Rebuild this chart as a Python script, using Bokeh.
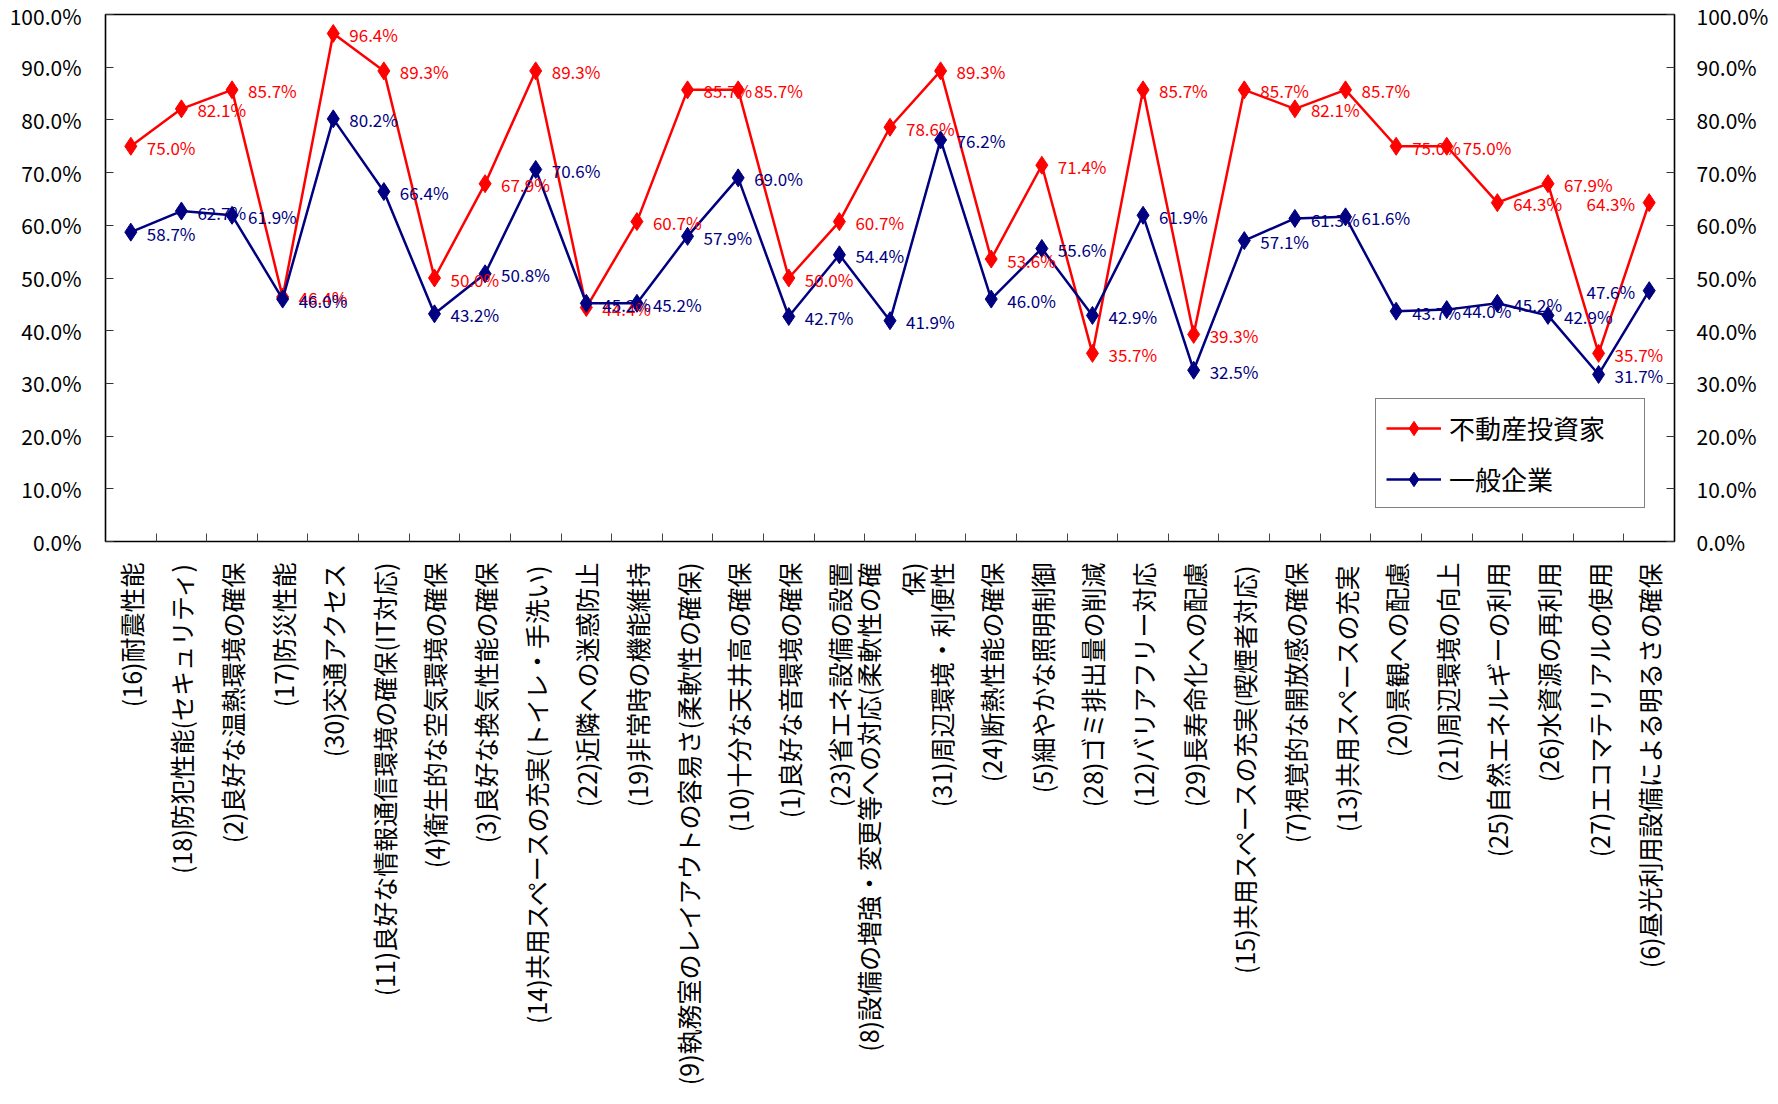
import math
from bokeh.plotting import figure
from bokeh.models import (ColumnDataSource, Range1d, LinearAxis, Label,
                          FixedTicker, SingleIntervalTicker,
                          PrintfTickFormatter, Legend, LegendItem)
from bokeh.embed import file_html
from bokeh.resources import INLINE

FONT = "Noto Sans CJK JP"

# evaluation items (x axis categories)
categories = [
    "(16)耐震性能",
    "(18)防犯性能(セキュリティ)",
    "(2)良好な温熱環境の確保",
    "(17)防災性能",
    "(30)交通アクセス",
    "(11)良好な情報通信環境の確保(IT対応)",
    "(4)衛生的な空気環境の確保",
    "(3)良好な換気性能の確保",
    "(14)共用スペースの充実(トイレ・手洗い)",
    "(22)近隣への迷惑防止",
    "(19)非常時の機能維持",
    "(9)執務室のレイアウトの容易さ(柔軟性の確保)",
    "(10)十分な天井高の確保",
    "(1)良好な音環境の確保",
    "(23)省エネ設備の設置",
    "(8)設備の増強・変更等への対応(柔軟性の確\n保)",
    "(31)周辺環境・利便性",
    "(24)断熱性能の確保",
    "(5)細やかな照明制御",
    "(28)ゴミ排出量の削減",
    "(12)バリアフリー対応",
    "(29)長寿命化への配慮",
    "(15)共用スペースの充実(喫煙者対応)",
    "(7)視覚的な開放感の確保",
    "(13)共用スペースの充実",
    "(20)景観への配慮",
    "(21)周辺環境の向上",
    "(25)自然エネルギーの利用",
    "(26)水資源の再利用",
    "(27)エコマテリアルの使用",
    "(6)昼光利用設備による明るさの確保",
]

series_names = ["不動産投資家", "一般企業"]

# share of respondents (%)
investors = [75.0, 82.1, 85.7, 46.4, 96.4, 89.3, 50.0, 67.9, 89.3, 44.4, 60.7,
             85.7, 85.7, 50.0, 60.7, 78.6, 89.3, 53.6, 71.4, 35.7, 85.7, 39.3,
             85.7, 82.1, 85.7, 75.0, 75.0, 64.3, 67.9, 35.7, 64.3]
companies = [58.7, 62.7, 61.9, 46.0, 80.2, 66.4, 43.2, 50.8, 70.6, 45.2, 45.2,
             57.9, 69.0, 42.7, 54.4, 41.9, 76.2, 46.0, 55.6, 42.9, 61.9, 32.5,
             57.1, 61.3, 61.6, 43.7, 44.0, 45.2, 42.9, 31.7, 47.6]

colors = ["#FF0000", "#000080"]

n = len(categories)
positions = list(range(1, n + 1))            # category slots 1..n
boundaries = [i + 0.5 for i in range(1, n)]  # edges between slots

p = figure(
    width=1778, height=1104,
    x_range=Range1d(0.5, n + 0.5),
    y_range=Range1d(0, 100),
    x_axis_location=None,
    output_backend="svg", toolbar_location=None,
    min_border_left=105, min_border_right=104,
    min_border_top=14, min_border_bottom=563,
)
p.background_fill_color = "white"
p.border_fill_color = "white"
p.outline_line_color = "black"
p.outline_line_width = 1.6
p.xgrid.visible = False
p.ygrid.visible = False

# y axes on both sides
def style_y(ax):
    ax.ticker = SingleIntervalTicker(interval=10)
    ax.formatter = PrintfTickFormatter(format="%.1f%%")
    ax.major_tick_in = 8
    ax.major_tick_out = 0
    ax.minor_tick_line_color = None
    ax.major_tick_line_color = "#333333"
    ax.axis_line_color = None
    ax.major_label_text_font = FONT
    ax.major_label_text_font_size = "21px"
    ax.major_label_text_color = "black"

style_y(p.yaxis[0])
p.yaxis[0].major_label_standoff = 20
right_axis = LinearAxis()
style_y(right_axis)
right_axis.major_label_standoff = 18
p.add_layout(right_axis, "right")

# category labels, with short ticks on the slot edges
cat_axis = LinearAxis(ticker=FixedTicker(ticks=positions, minor_ticks=boundaries))
cat_axis.major_label_overrides = {pos: name for pos, name in zip(positions, categories)}
cat_axis.major_tick_line_color = None
cat_axis.major_tick_in = 0
cat_axis.major_tick_out = 0
cat_axis.minor_tick_in = 8
cat_axis.minor_tick_out = 0
cat_axis.minor_tick_line_color = "#444444"
cat_axis.axis_line_color = None
cat_axis.major_label_orientation = math.pi / 2
cat_axis.major_label_standoff = 21
cat_axis.major_label_text_font = FONT
cat_axis.major_label_text_font_size = "25px"
cat_axis.major_label_text_color = "black"
p.add_layout(cat_axis, "below")

legend_items = []
series = list(zip(series_names, [investors, companies], colors))
for name, vals, col in series:
    src = ColumnDataSource(dict(x=positions, y=vals))
    ln = p.line("x", "y", source=src, line_color=col, line_width=2.5)
    mk = p.scatter("x", "y", source=src, marker="diamond", size=18,
                   fill_color=col, line_color=col)
    legend_items.append(LegendItem(label=name, renderers=[ln, mk]))

# value labels beside each point; the last slot puts them on the left
# so they stay inside the plot frame
for name, vals, col in series:
    for pos, v in zip(positions, vals):
        last = pos == n
        p.add_layout(Label(x=pos, y=v, text=f"{v:.1f}%", text_color=col,
                           text_font=FONT, text_font_size="17px",
                           text_align="right" if last else "left",
                           text_baseline="middle",
                           x_offset=-14 if last else 16, y_offset=-1))

legend = Legend(items=legend_items, location=(1270, 33))
legend.padding = 10
legend.spacing = 14
legend.glyph_width = 55
legend.glyph_height = 36
legend.label_height = 36
legend.label_width = 185
legend.label_standoff = 8
legend.label_text_font = FONT
legend.label_text_font_size = "26px"
legend.label_text_color = "black"
legend.border_line_color = "black"
legend.border_line_width = 1.3
legend.background_fill_alpha = 1
p.add_layout(legend, "center")

open("out.html", "w").write(file_html(p, INLINE))
